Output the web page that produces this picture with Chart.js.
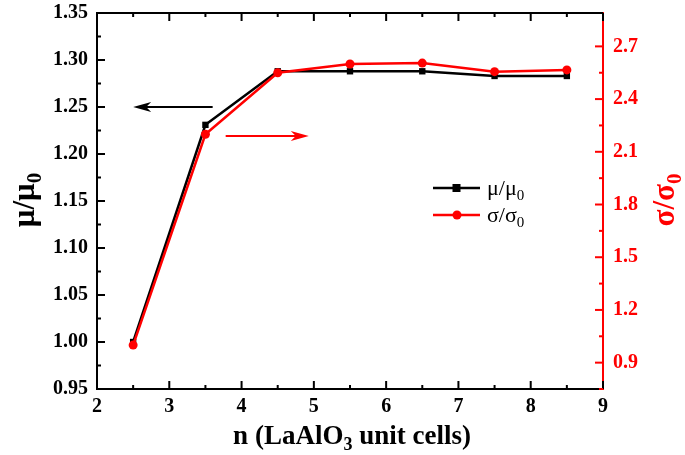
<!DOCTYPE html>
<html lang="en">
<head>
<meta charset="UTF-8" />
<title>Chart</title>
<script src="https://cdn.jsdelivr.net/npm/chart.js"></script>
<style>
  html, body { margin: 0; padding: 0; background: #fff; }
  #wrap { width: 685px; height: 455px; position: relative; }
</style>
</head>
<body>
<div id="wrap"><canvas id="chart"></canvas></div>
<script>
// data
const cells = [2.5, 3.5, 4.5, 5.5, 6.5, 7.5, 8.5];
const mobilityRatio = [1.000, 1.231, 1.288, 1.288, 1.288, 1.283, 1.283];
const conductRatio = [1.00, 2.20, 2.55, 2.60, 2.605, 2.556, 2.566];
const xTicks = [2, 3, 4, 5, 6, 7, 8, 9];
const leftTicks = [0.95, 1.00, 1.05, 1.10, 1.15, 1.20, 1.25, 1.30, 1.35];
const rightTicks = [0.9, 1.2, 1.5, 1.8, 2.1, 2.4, 2.7];

const RED = '#ff0000';
const SERIF = '"Liberation Serif", "Times New Roman", serif';

// text with one subscript part: [main, sub, rest]
function drawSubText(ctx, parts, x, y, size, weight, align) {
  const [a, sub, b] = parts;
  const subSize = Math.round(size * 0.68);
  ctx.font = `${weight} ${size}px ${SERIF}`;
  const wa = ctx.measureText(a).width;
  const wb = b ? ctx.measureText(b).width : 0;
  ctx.font = `${weight} ${subSize}px ${SERIF}`;
  const ws = ctx.measureText(sub).width;
  const total = wa + ws + wb;
  let sx = align === 'center' ? x - total / 2 : x;
  ctx.textAlign = 'left';
  ctx.textBaseline = 'alphabetic';
  ctx.font = `${weight} ${size}px ${SERIF}`;
  ctx.fillText(a, sx, y);
  ctx.font = `${weight} ${subSize}px ${SERIF}`;
  ctx.fillText(sub, sx + wa, y + size * 0.22);
  if (b) {
    ctx.font = `${weight} ${size}px ${SERIF}`;
    ctx.fillText(b, sx + wa + ws, y);
  }
}

function arrow(ctx, x1, y1, x2, y2, color) {
  const dir = Math.sign(x2 - x1);
  ctx.save();
  ctx.strokeStyle = color;
  ctx.fillStyle = color;
  ctx.lineWidth = 2;
  ctx.beginPath();
  ctx.moveTo(x1, y1);
  ctx.lineTo(x2 - dir * 12, y2);
  ctx.stroke();
  ctx.beginPath();
  ctx.moveTo(x2, y2);
  ctx.lineTo(x2 - dir * 18, y2 - 5);
  ctx.lineTo(x2 - dir * 13, y2);
  ctx.lineTo(x2 - dir * 18, y2 + 5);
  ctx.closePath();
  ctx.fill();
  ctx.restore();
}

const decor = {
  id: 'decor',
  afterDraw(chart) {
    const { ctx, chartArea: a, scales } = chart;
    const sx = scales.x, sy = scales.y, sr = scales.y1;
    ctx.save();
    ctx.lineWidth = 2;

    // top frame line
    ctx.strokeStyle = '#000';
    ctx.beginPath();
    ctx.moveTo(a.left, a.top);
    ctx.lineTo(a.right, a.top);
    ctx.stroke();

    // inward tick marks, x (bottom and top)
    for (let v = 2; v <= 9.001; v += 0.5) {
      const px = sx.getPixelForValue(v);
      const len = Math.abs(v - Math.round(v)) < 1e-6 ? 8 : 4;
      ctx.beginPath();
      ctx.moveTo(px, a.bottom); ctx.lineTo(px, a.bottom - len);
      ctx.moveTo(px, a.top); ctx.lineTo(px, a.top + len);
      ctx.stroke();
    }
    // left axis ticks
    for (let i = 0; i <= 16; i++) {
      const v = 0.95 + i * 0.025;
      const py = sy.getPixelForValue(v);
      const len = i % 2 === 0 ? 8 : 4;
      ctx.beginPath();
      ctx.moveTo(a.left, py); ctx.lineTo(a.left + len, py);
      ctx.stroke();
    }
    // right axis ticks
    ctx.strokeStyle = RED;
    for (let i = 0; i <= 13; i++) {
      const v = 0.75 + i * 0.15;
      if (v > sr.max) break;
      const py = sr.getPixelForValue(v);
      const len = i % 2 === 1 ? 8 : 4;
      ctx.beginPath();
      ctx.moveTo(a.right, py); ctx.lineTo(a.right - len, py);
      ctx.stroke();
    }

    // arrows pointing at each axis
    arrow(ctx, sx.getPixelForValue(3.6), sy.getPixelForValue(1.25),
      sx.getPixelForValue(2.5), sy.getPixelForValue(1.25), '#000');
    arrow(ctx, sx.getPixelForValue(3.78), sr.getPixelForValue(2.19),
      sx.getPixelForValue(4.93), sr.getPixelForValue(2.19), RED);

    // legend
    const ds = chart.data.datasets;
    const rows = [188, 215];
    const labels = [['\u03bc/\u03bc', '0'], ['\u03c3/\u03c3', '0']];
    ds.forEach((d, i) => {
      const y = rows[i];
      ctx.strokeStyle = d.borderColor;
      ctx.fillStyle = d.borderColor;
      ctx.lineWidth = 2.5;
      ctx.beginPath();
      ctx.moveTo(433, y); ctx.lineTo(480, y);
      ctx.stroke();
      if (d.pointStyle === 'rect') {
        ctx.fillRect(456.5 - 4, y - 4, 8, 8);
      } else {
        ctx.beginPath();
        ctx.arc(457, y, 4.5, 0, Math.PI * 2);
        ctx.fill();
      }
      ctx.fillStyle = '#000';
      drawSubText(ctx, labels[i], 487, y + 7, 22, 'normal', 'left');
    });

    // axis titles
    ctx.fillStyle = '#000';
    drawSubText(ctx, ['n (LaAlO', '3', ' unit cells)'], 352, 444, 27, 'bold', 'center');

    ctx.save();
    ctx.translate(34, 200);
    ctx.rotate(-Math.PI / 2);
    drawSubText(ctx, ['\u03bc/\u03bc', '0'], 0, 0, 31, 'bold', 'center');
    ctx.restore();

    ctx.save();
    ctx.fillStyle = RED;
    ctx.translate(674, 200);
    ctx.rotate(-Math.PI / 2);
    drawSubText(ctx, ['\u03c3/\u03c3', '0'], 0, 0, 31, 'bold', 'center');
    ctx.restore();

    ctx.restore();
  }
};

const tickFont = { family: SERIF, size: 20, weight: 'bold' };

// fixed axis box sizes, no extra label overflow padding
function fixWidth(w) {
  return (s) => { s.width = w; s.paddingTop = 0; s.paddingBottom = 0; };
}

new Chart(document.getElementById('chart'), {
  type: 'line',
  data: {
    datasets: [
      {
        label: '\u03bc/\u03bc0',
        data: cells.map((c, i) => ({ x: c, y: mobilityRatio[i] })),
        yAxisID: 'y',
        borderColor: '#000',
        backgroundColor: '#000',
        borderWidth: 2.5,
        pointStyle: 'rect',
        pointRadius: 4.5,
        pointBorderWidth: 0,
        order: 2
      },
      {
        label: '\u03c3/\u03c30',
        data: cells.map((c, i) => ({ x: c, y: conductRatio[i] })),
        yAxisID: 'y1',
        borderColor: RED,
        backgroundColor: RED,
        borderWidth: 2.5,
        pointStyle: 'circle',
        pointRadius: 4.5,
        pointBorderWidth: 0,
        order: 1
      }
    ]
  },
  options: {
    responsive: true,
    maintainAspectRatio: false,
    animation: false,
    layout: { padding: { top: 13, left: 0, right: 0, bottom: 0 } },
    plugins: {
      legend: { display: false },
      tooltip: { enabled: false }
    },
    scales: {
      x: {
        type: 'linear',
        min: 2,
        max: 9,
        afterBuildTicks: (s) => { s.ticks = xTicks.map(v => ({ value: v })); },
        afterFit: (s) => { s.height = 66; s.paddingLeft = 0; s.paddingRight = 0; },
        grid: { display: false, drawTicks: false },
        border: { display: true, color: '#000', width: 2 },
        ticks: { color: '#000', font: tickFont, padding: 6, maxRotation: 0 }
      },
      y: {
        position: 'left',
        min: 0.95,
        max: 1.35,
        afterBuildTicks: (s) => { s.ticks = leftTicks.map(v => ({ value: v })); },
        afterFit: fixWidth(97),
        grid: { display: false, drawTicks: false },
        border: { display: true, color: '#000', width: 2 },
        ticks: { color: '#000', font: tickFont, padding: 9, callback: (v) => v.toFixed(2) }
      },
      y1: {
        position: 'right',
        min: 0.75,
        max: 2.89,
        afterBuildTicks: (s) => { s.ticks = rightTicks.map(v => ({ value: v })); },
        afterFit: fixWidth(82),
        grid: { display: false, drawTicks: false },
        border: { display: true, color: RED, width: 2 },
        ticks: { color: RED, font: tickFont, padding: 10, callback: (v) => v.toFixed(1) }
      }
    }
  },
  plugins: [decor]
});
</script>
</body>
</html>
